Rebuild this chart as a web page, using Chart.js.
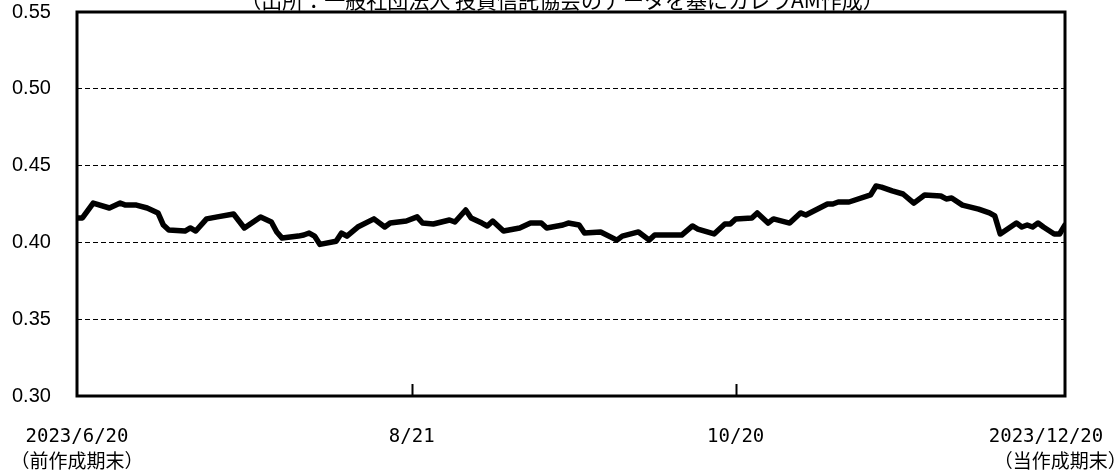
<!DOCTYPE html>
<html>
<head>
<meta charset="utf-8">
<script src="https://cdn.jsdelivr.net/npm/chart.js@4"></script>
<style>
  html, body { margin: 0; padding: 0; background: #fff; }
  canvas { display: block; }
</style>
</head>
<body>
<canvas id="c" width="1119" height="470"></canvas>
<script>
// Days elapsed since 2023/6/20
const days = [0,1,3,6,8,9,11,13,15,16,17,20,21,22,24,26,29,31,34,36,37,38,41,42,43,44,45,48,49,50,52,55,57,58,61,63,64,66,69,70,72,73,75,76,77,79,82,84,86,87,90,91,93,94,97,100,101,104,106,107,110,112,114,115,118,120,121,122,125,126,128,129,132,134,135,139,140,141,143,147,148,149,151,153,155,157,160,161,162,164,167,169,170,171,174,175,176,177,178,179,181,182,183];
const values = [0.4159,0.4159,0.4256,0.4224,0.4256,0.4243,0.4243,0.4224,0.4192,0.4113,0.4081,0.4074,0.4094,0.4074,0.4153,0.4166,0.4185,0.4094,0.4166,0.4133,0.4068,0.4028,0.4041,0.4048,0.4061,0.4041,0.3987,0.4007,0.4061,0.4041,0.4100,0.4153,0.4100,0.4126,0.4139,0.4166,0.4126,0.4120,0.4146,0.4133,0.4211,0.4159,0.4126,0.4107,0.4139,0.4074,0.4094,0.4126,0.4126,0.4094,0.4113,0.4126,0.4113,0.4061,0.4068,0.4015,0.4041,0.4068,0.4015,0.4048,0.4048,0.4048,0.4107,0.4087,0.4055,0.4120,0.4120,0.4153,0.4159,0.4192,0.4126,0.4153,0.4126,0.4192,0.4178,0.4250,0.4250,0.4263,0.4263,0.4309,0.4367,0.4360,0.4335,0.4315,0.4256,0.4309,0.4302,0.4283,0.4289,0.4243,0.4217,0.4192,0.4172,0.4055,0.4126,0.4100,0.4113,0.4100,0.4126,0.4100,0.4055,0.4055,0.4113];
const tickDays = [0, 62, 122, 183];
const tickLabels = [["2023/6/20", "（前作成期末）"], ["8/21"], ["10/20"], ["2023/12/20\u3000\u3000", "（当作成期末）\u3000"]];
const yTicks = [0.30, 0.35, 0.40, 0.45, 0.50, 0.55];
const titleText = "（出所：一般社団法人 投資信託協会のデータを基にカレラAM作成）";

const points = days.map((d, i) => ({ x: d, y: values[i] }));

const framePlugin = {
  id: 'frame',
  afterDatasetsDraw(chart) {
    const { ctx, chartArea: a } = chart;
    const xs = chart.scales.x;
    ctx.save();
    ctx.strokeStyle = '#000';
    ctx.lineWidth = 2;
    tickDays.slice(1, -1).forEach(v => {
      const px = Math.round(xs.getPixelForValue(v)) + 0.5;
      ctx.beginPath();
      ctx.moveTo(px, a.bottom);
      ctx.lineTo(px, a.bottom - 12);
      ctx.stroke();
    });
    ctx.lineWidth = 3;
    ctx.strokeRect(a.left, a.top, a.right - a.left, a.bottom - a.top);
    ctx.restore();
  },
  afterDraw(chart) {
    const { ctx } = chart;
    ctx.save();
    ctx.fillStyle = '#000';
    ctx.font = "21px 'Noto Sans CJK JP'";
    ctx.textAlign = 'center';
    ctx.textBaseline = 'middle';
    ctx.fillText(titleText, 562, 0);
    ctx.restore();
  }
};

new Chart(document.getElementById('c'), {
  type: 'line',
  data: {
    datasets: [{
      data: points,
      borderColor: '#000',
      borderWidth: 5.5,
      pointRadius: 0,
      tension: 0,
      borderJoinStyle: 'round',
      borderCapStyle: 'round',
      fill: false
    }]
  },
  options: {
    responsive: false,
    animation: false,
    devicePixelRatio: 1,
    layout: { padding: { left: 12, top: 12, right: 54, bottom: 0 } },
    plugins: { legend: { display: false }, tooltip: { enabled: false }, title: { display: false } },
    scales: {
      x: {
        type: 'linear',
        min: 0,
        max: 183,
        grid: { display: false, drawTicks: false },
        border: { display: false },
        afterBuildTicks(scale) { scale.ticks = tickDays.map(v => ({ value: v })); },
        afterFit(scale) { scale.height = 74; scale.paddingLeft = 0; scale.paddingRight = 0; },
        ticks: {
          autoSkip: false,
          maxRotation: 0,
          minRotation: 0,
          padding: 29,
          color: '#000',
          font: { family: "'DejaVu Sans Mono', 'Noto Sans CJK JP', monospace", size: 19, lineHeight: 1.32 },
          callback(value) {
            const i = tickDays.indexOf(value);
            return i >= 0 ? tickLabels[i] : '';
          }
        }
      },
      y: {
        min: 0.30,
        max: 0.55,
        afterBuildTicks(scale) { scale.ticks = yTicks.map(v => ({ value: v })); },
        afterFit(scale) { scale.width = 65; scale.paddingTop = 0; scale.paddingBottom = 0; },
        grid: { color: '#000', lineWidth: 1, drawTicks: false },
        border: { display: false, dash: [5, 3] },
        ticks: {
          crossAlign: 'far',
          padding: 0,
          color: '#000',
          font: { family: "'Liberation Sans', Arial, sans-serif", size: 20 },
          callback(value) { return Number(value).toFixed(2); }
        }
      }
    }
  },
  plugins: [framePlugin]
});
</script>
</body>
</html>
